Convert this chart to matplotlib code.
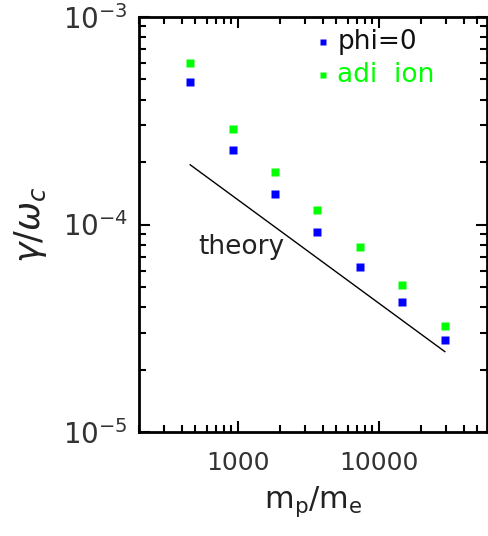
import matplotlib
matplotlib.use("Agg")
import matplotlib.pyplot as plt
from matplotlib.ticker import LogLocator, NullFormatter, FixedLocator

# mass ratios m_p/m_e
mass_ratio = [459, 918, 1836, 3672, 7344, 14688, 29376]
# growth rates gamma/omega_c
gamma_phi0 = [4.84e-4, 2.28e-4, 1.40e-4, 9.16e-5, 6.22e-5, 4.22e-5, 2.77e-5]
gamma_adi = [5.98e-4, 2.88e-4, 1.79e-4, 1.17e-4, 7.76e-5, 5.09e-5, 3.26e-5]
# theory line endpoints
theory_x = [459, 29376]
theory_y = [1.94e-4, 2.44e-5]

plt.rcParams["font.family"] = ["DejaVu Sans"]
plt.rcParams["mathtext.fontset"] = "dejavusans"

fig = plt.figure(figsize=(4.89, 5.36), dpi=100)
ax = fig.add_axes([139 / 489, 1 - 432 / 536, 348 / 489, 415 / 536])

ax.plot(mass_ratio, gamma_phi0, "s", color="#0000ff", ms=5.8, mec="none")
ax.plot(mass_ratio, gamma_adi, "s", color="#00ff00", ms=5.8, mec="none")
ax.plot(theory_x, theory_y, color="black", lw=1.0)

ax.set_xscale("log")
ax.set_yscale("log")
ax.set_xlim(199, 58500)
ax.set_ylim(1e-5, 1e-3)

ax.xaxis.set_major_locator(FixedLocator([1000, 10000]))
ax.set_xticklabels(["1000", "10000"])
ax.xaxis.set_minor_locator(LogLocator(base=10, subs=range(2, 10)))
ax.xaxis.set_minor_formatter(NullFormatter())
ax.yaxis.set_major_locator(FixedLocator([1e-5, 1e-4, 1e-3]))
ax.set_yticklabels([r"$10^{-5}$", r"$10^{-4}$", r"$10^{-3}$"])
ax.yaxis.set_minor_locator(LogLocator(base=10, subs=range(2, 10)))
ax.yaxis.set_minor_formatter(NullFormatter())

for s in ax.spines.values():
    s.set_linewidth(2)
ax.tick_params(which="both", direction="in", top=True, right=True, width=1.5)
ax.tick_params(which="major", length=8)
ax.tick_params(which="minor", length=5)
ax.tick_params(axis="x", labelsize=18, labelcolor="#333333", pad=14)
ax.tick_params(axis="y", labelsize=20, labelcolor="#333333", pad=8)

ax.set_xlabel(r"$\mathregular{m_p/m_e}$", fontsize=22, color="#222222", labelpad=6)
ax.set_ylabel(r"$\gamma/\omega_c$", fontsize=25, color="#222222", labelpad=10)

ax.text(520, 7.8e-5, "theory", fontsize=19, va="center", ha="left", color="#222222")

# legend drawn by hand
ax.plot([0.528], [0.94], "s", color="#0000ff", ms=4.5, mec="none", transform=ax.transAxes)
ax.text(0.57, 0.94, "phi=0", fontsize=19, va="center", ha="left",
        color="#111111", transform=ax.transAxes)
ax.plot([0.528], [0.86], "s", color="#00ff00", ms=4.5, mec="none", transform=ax.transAxes)
ax.text(0.57, 0.86, "adi  ion", fontsize=19, va="center", ha="left",
        color="#00ff00", transform=ax.transAxes)

fig.savefig("out.png", dpi=100)
